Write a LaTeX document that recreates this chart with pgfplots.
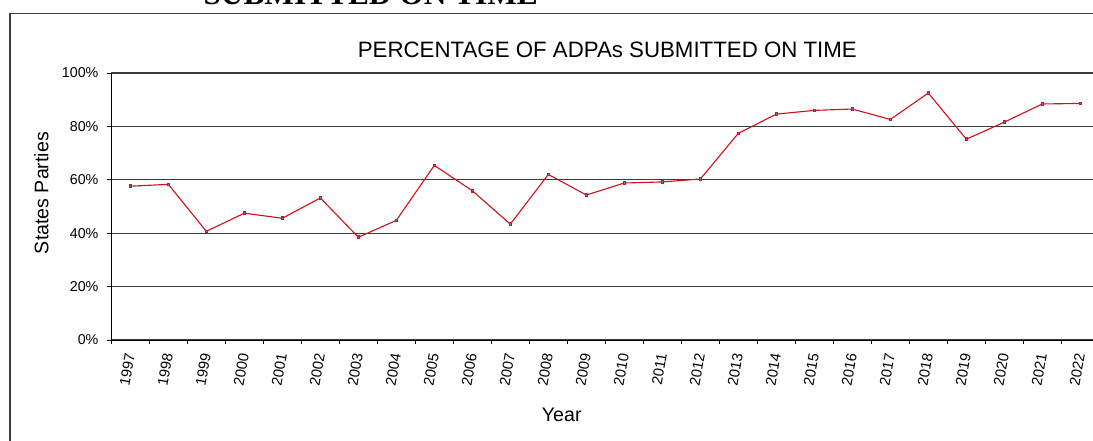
\documentclass[border=0pt]{standalone}
\usepackage{pgfplots}
\pgfplotsset{compat=1.18}
\usepackage{fontspec}
\setmainfont{Liberation Sans}
\newfontfamily\serifbold{Liberation Serif}
\definecolor{lineRed}{RGB}{210,20,30}
\definecolor{markBlue}{RGB}{80,125,210}
\definecolor{gridGray}{RGB}{60,60,60}
\begin{document}
\begin{tikzpicture}
\useasboundingbox (0,0) rectangle (819.75pt,330pt);
\clip (0,0) rectangle (819.75pt,330pt);
% cropped heading from the page above
\node[anchor=base, inner sep=0pt] at (278pt,326.6pt) {\serifbold\bfseries\fontsize{23.5}{26}\selectfont SUBMITTED ON TIME};
% chart frame
\draw[gridGray, line width=1.1pt] (7.5pt,-20pt) -- (7.5pt,320pt) -- (819.75pt,320pt);
\begin{axis}[
  at={(83.5pt,75pt)}, anchor=south west,
  scale only axis,
  width=741pt, height=200.25pt,
  xmin=-0.5, xmax=25.5, ymin=0, ymax=100,
  enlargelimits=false,
  axis x line*=bottom,
  axis y line*=left,
  axis line style={-, black, line width=0.75pt},
  xtick={0,...,25},
  xticklabels={1997,1998,1999,2000,2001,2002,2003,2004,2005,2006,2007,2008,2009,2010,2011,2012,2013,2014,2015,2016,2017,2018,2019,2020,2021,2022},
  minor xtick={-0.5,0.5,...,24.5},
  major x tick style={draw=none},
  minor x tick style={black, line width=0.75pt},
  ytick={0,20,40,60,80,100},
  y tick style={black, line width=0.75pt},
  tick align=outside,
  major tick length=3pt,
  minor tick length=3pt,
  ymajorgrids,
  grid style={gridGray, line width=1pt},
  yticklabel={\pgfmathprintnumber{\tick}\%},
  /pgf/number format/assume math mode=true,
  x tick label style={font=\fontsize{11}{13}\selectfont, yshift=-6pt, rotate=80, anchor=east, inner sep=1pt},
  y tick label style={font=\fontsize{10.7}{12}\selectfont, inner sep=2pt, xshift=-4.5pt},
  clip=false,
]
\addplot[lineRed, line width=0.85pt, mark=square*, mark size=0.9pt, mark options={draw=none, fill=markBlue}]
coordinates {
(0,57.6) (1,58.3) (2,40.7) (3,47.5) (4,45.6) (5,53.2) (6,38.5) (7,44.8) (8,65.4) (9,55.9)
(10,43.4) (11,62.0) (12,54.3) (13,58.8) (14,59.2) (15,60.3) (16,77.4) (17,84.6) (18,86.0) (19,86.5)
(20,82.6) (21,92.5) (22,75.2) (23,81.6) (24,88.4) (25,88.6)
};
\end{axis}
\node at (455.5pt,292.5pt) {\fontsize{16.7}{19}\selectfont PERCENTAGE OF ADPAs SUBMITTED ON TIME};
\node[rotate=90] at (31.1pt,185.25pt) {\fontsize{14.7}{17}\selectfont States Parties};
\node at (421.3pt,18.75pt) {\fontsize{14.7}{17}\selectfont Year};
\end{tikzpicture}
\end{document}
